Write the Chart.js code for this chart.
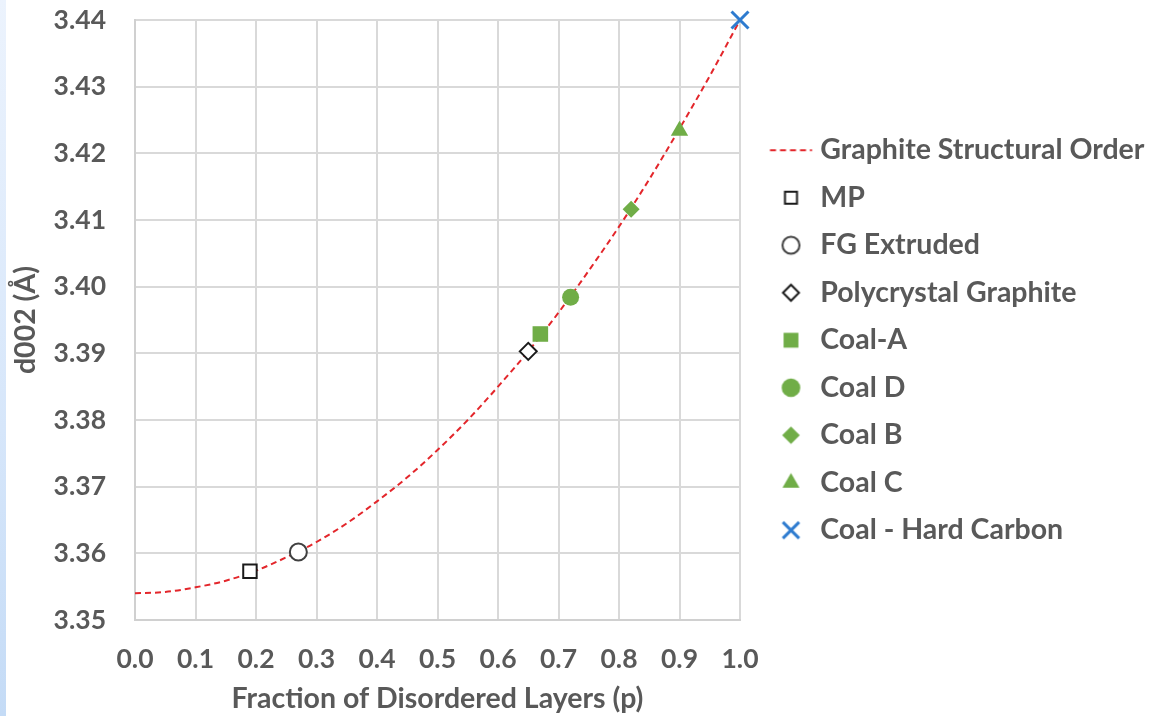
<!DOCTYPE html>
<html>
<head>
<meta charset="utf-8">
<script src="https://cdn.jsdelivr.net/npm/chart.js@4.4.1/dist/chart.umd.min.js"></script>
<style>
  html, body { margin: 0; padding: 0; background: #ffffff; }
  #wrap { position: relative; width: 1150px; height: 716px; overflow: hidden; }
  #strip { position: absolute; left: 0; top: 0; width: 6px; height: 716px;
           background: linear-gradient(to bottom, #ecf3fd 0%, #d6e6fa 60%, #c4dbf6 100%); }
  canvas { position: absolute; left: 0; top: 0; }
</style>
</head>
<body>
<div id="wrap">
  <canvas id="c" width="1150" height="716"></canvas>
  <div id="strip"></div>
</div>
<script>
// ---- Data ----
const curveP = [0.00, 0.05, 0.10, 0.15, 0.20, 0.25, 0.30, 0.35, 0.40, 0.45, 0.50,
                0.55, 0.60, 0.65, 0.70, 0.75, 0.80, 0.85, 0.90, 0.95, 1.00];
const curveD = [3.3540, 3.3542, 3.3549, 3.3559, 3.3574, 3.3594, 3.3617, 3.3645, 3.3678, 3.3714, 3.3755,
                3.3800, 3.3850, 3.3903, 3.3961, 3.4024, 3.4090, 3.4161, 3.4237, 3.4316, 3.4400];

const sampleNames = ["MP", "FG Extruded", "Polycrystal Graphite", "Coal-A", "Coal D", "Coal B", "Coal C", "Coal - Hard Carbon"];
const sampleP     = [0.19, 0.27, 0.65, 0.67, 0.72, 0.82, 0.90, 1.00];
const sampleD     = [3.3573, 3.3602, 3.3903, 3.3929, 3.3984, 3.4116, 3.4234, 3.4400];

const curveName = "Graphite Structural Order";
const xTicks = [0.0, 0.1, 0.2, 0.3, 0.4, 0.5, 0.6, 0.7, 0.8, 0.9, 1.0];
const yTicks = [3.35, 3.36, 3.37, 3.38, 3.39, 3.40, 3.41, 3.42, 3.43, 3.44];

// ---- Styles ----
const TEXT = '#595959';
const GREEN = '#70AD47';
const BLUE = '#2E7BCF';
const RED = '#E3262B';
const FONT = 'Lato';

const markerStyles = [
  { pointStyle: 'rect',     radius: 9.5, bg: '#ffffff', border: '#1a1a1a', bw: 2 },
  { pointStyle: 'circle',   radius: 8.5, bg: '#ffffff', border: '#404040', bw: 2 },
  { pointStyle: 'rectRot',  radius: 8.5, bg: '#ffffff', border: '#1a1a1a', bw: 2 },
  { pointStyle: 'rect',     radius: 11,  bg: GREEN, border: GREEN, bw: 0 },
  { pointStyle: 'circle',   radius: 8.5, bg: GREEN, border: GREEN, bw: 0 },
  { pointStyle: 'rectRot',  radius: 8.5, bg: GREEN, border: GREEN, bw: 0 },
  { pointStyle: 'triangle', radius: 10,  bg: GREEN, border: GREEN, bw: 0 },
  { pointStyle: 'crossRot', radius: 12,  bg: BLUE,  border: BLUE,  bw: 3 }
];
const legendRadius = [8.5, 8.5, 8, 10.5, 9.3, 8.8, 9.8, 11.5];

// legend icons as small canvases (marker centred right of the box centre)
const ICON_W = 64, ICON_H = 28, ICON_SHIFT = 8.5;
function makeIcon(drawFn) {
  const cv = document.createElement('canvas');
  cv.width = ICON_W; cv.height = ICON_H;
  const ctx = cv.getContext('2d');
  drawFn(ctx, ICON_W / 2 + ICON_SHIFT, ICON_H / 2);
  return cv;
}
const lineIcon = makeIcon((ctx, cx, cy) => {
  ctx.strokeStyle = RED; ctx.lineWidth = 2; ctx.setLineDash([6, 4]);
  ctx.beginPath(); ctx.moveTo(cx - 21, cy); ctx.lineTo(cx + 21, cy); ctx.stroke();
});
const markerIcons = markerStyles.map((m, i) => makeIcon((ctx, cx, cy) => {
  ctx.fillStyle = m.bg; ctx.strokeStyle = m.border; ctx.lineWidth = m.bw;
  Chart.helpers.drawPoint(ctx, { pointStyle: m.pointStyle, radius: legendRadius[i], borderWidth: m.bw, rotation: 0 }, cx, cy);
}));

const datasets = [{
  label: curveName,
  type: 'line',
  data: curveP.map((p, i) => ({ x: p, y: curveD[i] })),
  borderColor: RED,
  borderWidth: 2,
  borderDash: [6, 4],
  pointRadius: 0,
  pointHoverRadius: 0,
  tension: 0.4,
  cubicInterpolationMode: 'monotone',
  fill: false,
  order: 10,
  legendIcon: lineIcon
}];
sampleNames.forEach((name, i) => {
  const m = markerStyles[i];
  datasets.push({
    label: name,
    type: 'scatter',
    data: [{ x: sampleP[i], y: sampleD[i] }],
    pointStyle: m.pointStyle,
    pointRadius: m.radius,
    pointHoverRadius: m.radius,
    backgroundColor: m.bg,
    borderColor: m.border,
    pointBorderWidth: m.bw,
    borderWidth: m.bw,
    clip: false,
    order: 1,
    legendIcon: markerIcons[i]
  });
});

const chart = new Chart(document.getElementById('c'), {
  type: 'scatter',
  data: { datasets },
  options: {
    responsive: false,
    animation: false,
    events: [],
    layout: { padding: { top: 20, left: 0, right: 0, bottom: 0 } },
    scales: {
      x: {
        type: 'linear',
        min: 0, max: 1,
        afterBuildTicks: s => { s.ticks = xTicks.map(v => ({ value: v })); },
        afterFit: s => { s.height = 96; s.paddingLeft = 0; s.paddingRight = 0; },
        grid: { color: '#d9d9d9', lineWidth: 2, drawTicks: false },
        border: { color: '#d0d0d0', width: 2 },
        ticks: {
          padding: 24,
          color: TEXT,
          font: { family: FONT, size: 26.5, weight: 'bold' },
          callback: v => Number(v).toFixed(1),
          maxRotation: 0
        },
        title: {
          display: true,
          text: 'Fraction of Disordered Layers (p)',
          color: TEXT,
          font: { family: FONT, size: 28.5, weight: 'bold' },
          padding: { top: 0, bottom: 0 }
        }
      },
      y: {
        type: 'linear',
        min: 3.35, max: 3.44,
        afterBuildTicks: s => { s.ticks = yTicks.map(v => ({ value: v })); },
        afterFit: s => { s.width = 135; s.paddingTop = 0; s.paddingBottom = 0; },
        grid: { color: '#d9d9d9', lineWidth: 2, drawTicks: false },
        border: { color: '#d0d0d0', width: 2 },
        ticks: {
          padding: 29,
          color: TEXT,
          font: { family: FONT, size: 26.5, weight: 'bold' },
          callback: v => Number(v).toFixed(2)
        },
        title: {
          display: true,
          text: 'd002 (Å)',
          color: TEXT,
          font: { family: FONT, size: 28.5, weight: 'bold' },
          padding: { top: 9, bottom: 0 }
        }
      }
    },
    plugins: {
      tooltip: { enabled: false },
      legend: {
        display: true,
        position: 'right',
        align: 'start',
        title: { display: true, text: ' ', font: { size: 10 }, padding: { top: 85, bottom: 0 } },
        labels: {
          usePointStyle: true,
          pointStyleWidth: 47,
          boxHeight: 14,
          padding: 19,
          color: TEXT,
          font: { family: FONT, size: 28.5, weight: 'bold' },
          generateLabels: ch => ch.data.datasets.map((ds, i) => ({
            text: ds.label,
            datasetIndex: i,
            pointStyle: ds.legendIcon,
            fillStyle: 'rgba(0,0,0,0)',
            strokeStyle: 'rgba(0,0,0,0)',
            lineWidth: 0,
            hidden: false,
            fontColor: TEXT
          }))
        }
      }
    }
  }
});

// fix the legend width so the plot area ends at x = 740
const origFit = chart.legend.fit;
chart.legend.fit = function () { origFit.call(this); this.width = 410; };
chart.update();
</script>
</body>
</html>
